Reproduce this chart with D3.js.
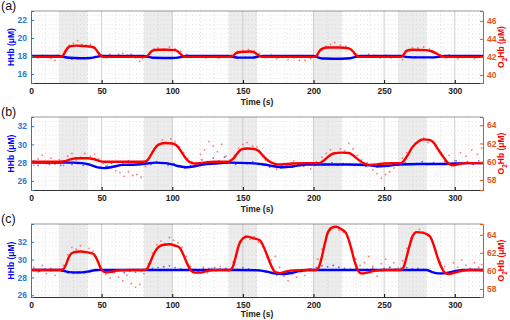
<!DOCTYPE html>
<html>
<head>
<meta charset="utf-8">
<script src="https://cdn.jsdelivr.net/npm/d3@7"></script>
<style>
  body { margin: 0; background: #fff; }
  text { font-family: "Liberation Sans", Arial, sans-serif; }
</style>
</head>
<body>
<div id="chart"></div>
<script>
// time axis + stimulus blocks
const X_TICKS = [0, 50, 100, 150, 200, 250, 300];
const STIM = [[20, 40], [80, 100], [140, 160], [200, 220], [260, 280]];

// panel (a)
const A_LEFT_TICKS = [16, 18, 20, 22];
const A_RIGHT_TICKS = [40, 42, 44, 46];
const A_HHB = [[0,18],[20,18],[23,17.9],[27,17.8],[35,17.75],[42,17.78],[46,17.9],[50,18],[80,18],[83,17.9],[87,17.8],[100,17.78],[105,17.85],[108,17.95],[110,18],[140,18],[143,17.9],[147,17.82],[157,17.82],[161,17.95],[164,18],[200,18],[203,17.85],[207,17.72],[220,17.7],[226,17.75],[230,17.9],[233,18],[262,18],[265,17.9],[270,17.85],[285,17.85],[290,17.95],[293,18],[320,18]];
const A_O2HB = [[0,42],[10,42],[20,42],[22,42.05],[24,42.5],[26,43.0],[28,43.2],[32,43.25],[38,43.2],[42,43.15],[45,43.0],[47,42.6],[49,42.2],[51,42],[60,42],[70,42],[80,42],[82,42.05],[84,42.4],[86,42.7],[90,42.8],[96,42.8],[102,42.75],[104,42.6],[106,42.3],[108,42.05],[110,42],[120,42],[130,42],[140,42],[143,42.1],[145,42.4],[148,42.55],[155,42.6],[158,42.5],[160,42.3],[162,42.1],[164,42],[180,42],[200,42],[202,42.1],[204,42.6],[206,42.9],[210,43.05],[218,43.05],[225,42.95],[228,42.6],[230,42.2],[232,42.0],[250,42],[262,42],[264,42.3],[266,42.7],[270,42.8],[280,42.75],[284,42.6],[288,42.3],[291,42.05],[294,42],[320,42]];
const A_HHB_PTS = [[3,18.0],[7,17.95],[12,18.05],[16,17.9],[21,17.95],[25,17.8],[29,17.65],[33,17.7],[37,17.75],[41,17.8],[45,17.85],[50,18.1],[55,18.05],[60,18.0],[65,17.95],[70,18.05],[75,18.0],[80,17.95],[86,17.75],[92,17.8],[98,17.75],[104,17.8],[110,18.1],[116,18.0],[122,18.05],[128,17.95],[134,18.05],[140,18.0],[146,17.8],[152,17.85],[158,17.85],[164,18.0],[170,18.05],[176,18.0],[182,17.95],[188,18.05],[194,18.0],[200,17.95],[206,17.7],[212,17.7],[218,17.65],[224,17.75],[230,17.95],[236,18.05],[242,18.0],[248,17.95],[254,18.05],[260,18.0],[266,17.85],[272,17.9],[278,17.85],[284,17.8],[290,18.05],[296,18.1],[302,17.95],[308,18.05],[314,17.9],[319,18.0]];
const A_O2HB_PTS = [[2,42.1],[5,41.9],[8,42.2],[11,42.0],[14,41.85],[17,41.6],[19,42.2],[24,42.7],[27,43.3],[30,43.5],[33,43.8],[36,43.4],[39,43.3],[42,43.4],[45,43.1],[48,42.3],[53,41.9],[56,42.3],[59,42.1],[62,42.3],[65,42.4],[68,42.2],[71,42.3],[74,41.9],[77,41.5],[79,41.8],[84,42.3],[87,42.9],[90,43.0],[94,42.9],[98,43.1],[102,42.9],[106,42.6],[111,42.2],[115,42.0],[119,42.1],[124,41.9],[129,42.1],[133,41.85],[137,42.0],[142,42.2],[146,42.6],[150,42.7],[154,42.8],[158,42.7],[162,42.4],[166,41.9],[170,42.2],[174,41.8],[178,42.1],[182,41.7],[186,41.9],[190,41.6],[194,41.6],[198,41.8],[203,42.2],[206,42.8],[209,43.2],[212,43.4],[215,43.6],[219,43.3],[223,43.2],[227,42.8],[231,42.3],[235,42.1],[239,42.3],[243,42.2],[247,41.9],[251,42.2],[255,41.9],[259,42.1],[263,41.7],[266,42.6],[270,43.0],[274,43.0],[278,43.1],[282,42.9],[286,42.5],[290,42.0],[294,41.9],[298,42.1],[302,41.8],[306,41.95],[310,42.1],[314,41.8],[318,42.0]];

// panel (b)
const B_LEFT_TICKS = [26, 28, 30, 32];
const B_RIGHT_TICKS = [58, 60, 62, 64];
const B_HHB = [[0,28],[20,28],[30,28.0],[36,27.95],[42,27.75],[48,27.45],[52,27.4],[58,27.55],[65,27.75],[75,27.8],[82,27.9],[88,28.0],[95,27.95],[100,27.8],[105,27.6],[110,27.5],[116,27.6],[122,27.8],[130,27.9],[140,28.0],[155,27.95],[165,27.8],[172,27.6],[178,27.5],[186,27.6],[195,27.8],[210,27.8],[225,27.8],[240,27.7],[247,27.6],[253,27.65],[260,27.8],[275,27.85],[290,27.85],[300,27.9],[310,27.95],[320,27.95]];
const B_O2HB = [[0,60],[10,60],[20,60],[24,60.05],[28,60.25],[32,60.38],[40,60.38],[44,60.3],[48,60.1],[52,60.0],[60,60],[70,60],[80,60],[82,60.1],[84,60.5],[87,61.3],[90,61.85],[95,62.05],[100,62.0],[103,61.8],[106,61.2],[109,60.5],[112,60.0],[116,59.8],[120,59.85],[125,59.95],[130,60],[140,60],[143,60.3],[146,60.9],[149,61.35],[153,61.45],[158,61.4],[161,61.2],[164,60.7],[168,60.1],[172,59.8],[177,59.7],[185,59.8],[195,59.85],[204,59.85],[207,60.1],[210,60.5],[214,60.9],[220,61.0],[225,60.95],[228,60.7],[232,60.2],[236,59.8],[240,59.65],[245,59.7],[250,59.8],[262,59.85],[264,60.1],[267,60.8],[270,61.6],[274,62.2],[278,62.45],[282,62.4],[285,62.1],[288,61.4],[292,60.5],[296,59.75],[299,59.6],[303,59.75],[308,59.85],[320,59.85]];
const B_HHB_PTS = [[2,28.2],[5,27.7],[9,28.1],[13,27.8],[17,28.0],[21,27.7],[25,28.1],[29,27.8],[33,27.9],[37,27.7],[41,27.9],[45,27.6],[49,27.5],[53,27.6],[57,27.9],[61,28.1],[65,27.9],[69,28.2],[73,28.0],[77,27.8],[81,28.1],[85,27.8],[89,28.1],[93,27.9],[97,27.7],[101,27.9],[105,27.6],[109,27.4],[113,27.7],[117,27.9],[121,28.3],[125,28.1],[129,28.5],[133,28.2],[137,28.6],[141,28.1],[145,27.8],[149,28.0],[153,27.9],[157,28.1],[161,27.8],[165,27.7],[169,27.5],[173,27.6],[177,27.4],[181,27.7],[185,27.5],[189,27.8],[193,27.6],[197,27.9],[201,27.7],[205,27.9],[209,27.8],[213,28.0],[217,27.7],[221,27.9],[225,27.8],[229,27.7],[233,27.9],[237,27.6],[241,27.7],[245,27.5],[249,27.8],[253,27.6],[257,27.9],[261,27.8],[265,28.0],[269,27.8],[273,27.9],[277,28.1],[281,27.8],[285,28.0],[289,27.9],[293,28.1],[297,27.9],[301,28.2],[305,27.9],[309,28.1],[313,27.8],[317,28.2]];
const B_O2HB_PTS = [[2,59.6],[5,60.3],[8,60.7],[11,59.8],[14,60.4],[17,59.7],[20,60.2],[23,59.6],[26,60.6],[29,60.9],[32,60.2],[35,60.5],[38,60.9],[42,60.6],[45,60.8],[48,60.3],[51,59.8],[54,59.6],[57,59.3],[60,59.0],[63,58.8],[66,58.4],[69,58.9],[72,58.5],[75,58.6],[78,58.3],[81,59.5],[84,60.6],[87,61.4],[90,61.9],[93,62.4],[96,62.0],[99,62.5],[102,62.2],[105,61.6],[108,61.0],[111,60.4],[114,60.0],[117,59.7],[120,60.8],[123,61.3],[126,62.2],[129,61.7],[132,61.1],[135,61.9],[138,60.6],[141,60.2],[144,60.7],[147,61.5],[150,61.9],[153,62.1],[157,61.7],[160,61.6],[163,60.9],[166,60.2],[170,59.5],[174,59.2],[178,59.6],[182,59.4],[186,60.1],[190,59.5],[194,59.7],[198,59.2],[202,60.0],[206,60.5],[209,60.9],[212,61.3],[215,61.0],[219,61.4],[222,61.2],[225,62.0],[228,61.4],[231,60.7],[234,60.2],[238,59.9],[242,59.1],[245,58.7],[248,58.2],[251,58.6],[254,58.9],[257,59.3],[260,59.6],[263,60.4],[266,61.0],[269,61.4],[272,62.0],[275,62.4],[278,62.6],[281,62.1],[284,62.3],[287,61.8],[290,61.0],[293,60.3],[296,60.7],[300,60.1],[304,61.0],[308,60.6],[312,61.3],[316,60.8],[319,61.5]];

// panel (c)
const C_LEFT_TICKS = [26, 28, 30, 32];
const C_RIGHT_TICKS = [58, 60, 62, 64];
const C_HHB = [[0,28.83],[20,28.83],[23,28.75],[27,28.6],[33,28.55],[40,28.65],[45,28.8],[50,28.85],[80,28.83],[140,28.83],[160,28.8],[167,28.65],[172,28.45],[178,28.38],[184,28.5],[190,28.7],[196,28.83],[280,28.83],[284,28.6],[288,28.45],[292,28.45],[297,28.6],[302,28.75],[306,28.83],[320,28.83]];
const C_O2HB = [[0,60.1],[10,60.1],[20,60.1],[23,60.2],[25,60.8],[27,61.6],[30,62.05],[35,62.15],[40,62.05],[44,61.9],[46,61.5],[48,60.8],[50,60.1],[53,59.85],[57,59.9],[62,60.05],[70,60.1],[80,60.1],[82,60.2],[84,60.8],[87,61.9],[90,62.6],[94,62.9],[98,62.95],[102,62.8],[105,62.6],[107,62.1],[110,61.0],[113,60.1],[116,59.8],[120,59.8],[125,60.0],[130,60.1],[141,60.1],[143,60.5],[145,61.6],[147,62.8],[150,63.6],[153,63.8],[158,63.6],[162,63.4],[164,62.9],[167,61.8],[170,60.6],[173,59.85],[176,59.75],[181,59.95],[186,60.05],[195,60.1],[202,60.1],[204,60.5],[206,61.6],[208,63.0],[210,64.2],[213,64.8],[216,64.9],[220,64.6],[223,64.2],[225,63.4],[227,62.3],[229,61.1],[231,60.2],[234,59.7],[238,59.8],[243,60.0],[250,60.1],[262,60.1],[264,60.5],[266,61.6],[268,62.8],[270,63.8],[273,64.3],[277,64.25],[281,64.0],[283,63.7],[285,62.9],[287,61.9],[290,60.6],[293,59.8],[296,59.65],[300,59.8],[305,60.0],[310,60.1],[320,60.1]];
const C_HHB_PTS = [[2,28.9],[6,28.7],[10,28.95],[14,28.75],[18,28.85],[22,28.7],[26,28.5],[30,28.45],[34,28.6],[38,28.5],[42,28.7],[46,28.9],[50,28.95],[54,28.8],[58,28.6],[62,28.75],[66,28.55],[70,28.7],[74,28.6],[78,28.75],[82,28.9],[86,29.0],[90,29.1],[94,29.2],[98,29.3],[102,29.1],[106,28.95],[110,28.8],[114,28.9],[118,28.7],[122,28.95],[126,29.0],[130,29.1],[134,28.95],[138,29.0],[142,29.05],[146,28.9],[150,29.1],[154,28.95],[158,28.85],[162,28.8],[166,28.6],[170,28.5],[174,28.3],[178,28.4],[182,28.55],[186,28.5],[190,28.7],[194,28.8],[198,28.95],[202,29.1],[206,29.3],[210,29.2],[214,29.35],[218,29.15],[222,29.0],[226,28.9],[230,28.95],[234,28.8],[238,28.9],[242,29.05],[246,28.85],[250,29.0],[254,29.1],[258,28.95],[262,29.05],[266,29.1],[270,28.95],[274,29.0],[278,28.9],[282,28.7],[286,28.5],[290,28.4],[294,28.45],[298,28.6],[302,28.75],[306,28.85],[310,28.8],[314,28.9],[318,28.85]];
const C_O2HB_PTS = [[2,60.4],[5,59.9],[8,60.6],[11,59.7],[14,60.3],[17,59.5],[20,60.2],[23,60.6],[26,61.8],[29,62.6],[32,62.4],[35,62.8],[38,62.1],[41,62.5],[44,62.2],[47,61.2],[50,60.0],[53,59.6],[56,59.2],[59,59.8],[62,59.3],[65,58.9],[68,59.5],[71,58.6],[74,58.2],[77,58.5],[80,59.7],[83,60.8],[86,62.0],[89,62.9],[92,63.3],[95,63.0],[98,63.7],[101,63.4],[104,63.1],[107,62.6],[110,61.6],[113,60.5],[116,60.2],[119,59.9],[122,60.4],[125,59.8],[128,60.3],[131,60.0],[134,60.5],[137,60.2],[140,60.0],[143,61.0],[146,62.2],[149,63.2],[152,63.9],[155,63.5],[158,63.8],[161,63.2],[164,62.7],[167,61.5],[170,61.2],[173,61.6],[176,60.4],[179,59.4],[182,58.9],[185,59.6],[188,59.3],[191,59.9],[194,59.5],[197,60.2],[200,60.0],[203,61.3],[206,62.4],[209,63.4],[212,64.5],[215,64.9],[218,64.5],[221,64.3],[224,63.8],[227,62.5],[230,61.3],[233,60.6],[236,60.9],[239,61.6],[242,60.5],[245,59.4],[248,60.8],[251,61.3],[254,60.4],[257,60.9],[260,60.3],[263,61.1],[266,62.5],[269,63.6],[272,64.2],[275,64.6],[278,64.3],[281,63.9],[284,63.4],[287,62.2],[290,61.0],[293,60.5],[296,59.8],[299,60.9],[302,60.4],[305,61.2],[308,60.6],[311,60.3],[314,60.9],[317,60.4],[319,60.7]];

const panels = [
    { label: "(a)", top: 11, bottom: 83, left: [15, 23], right: [39.1, 47.1],
      lt: A_LEFT_TICKS, rt: A_RIGHT_TICKS, hhb: A_HHB, o2: A_O2HB, hp: A_HHB_PTS, op: A_O2HB_PTS },
    { label: "(b)", top: 117, bottom: 190, left: [25, 33], right: [56.9, 64.9],
      lt: B_LEFT_TICKS, rt: B_RIGHT_TICKS, hhb: B_HHB, o2: B_O2HB, hp: B_HHB_PTS, op: B_O2HB_PTS },
    { label: "(c)", top: 224, bottom: 297, left: [25.8, 34], right: [57.1, 65.2],
      lt: C_LEFT_TICKS, rt: C_RIGHT_TICKS, hhb: C_HHB, o2: C_O2HB, hp: C_HHB_PTS, op: C_O2HB_PTS }
];

const W = 510, H = 320;
const X0 = 31, X1 = 483;
const leftCol = "#1f7bcf", rightCol = "#e0561a";

const svg = d3.select("#chart").append("svg")
    .attr("width", W)
    .attr("height", H);

const x = d3.scaleLinear().domain([0, 320]).range([X0, X1]);

panels.forEach((p, i) => {
    const yl = d3.scaleLinear().domain(p.left).range([p.bottom, p.top]);
    const yr = d3.scaleLinear().domain(p.right).range([p.bottom, p.top]);
    const g = svg.append("g");

    g.append("clipPath").attr("id", "clip" + i)
        .append("rect")
        .attr("x", X0).attr("y", p.top)
        .attr("width", X1 - X0).attr("height", p.bottom - p.top);

    // stimulus shading
    g.selectAll(".stim").data(STIM).enter().append("rect")
        .attr("x", d => x(d[0]))
        .attr("y", p.top)
        .attr("width", d => x(d[1]) - x(d[0]))
        .attr("height", p.bottom - p.top)
        .attr("fill", "#ececec");

    // minor grid
    g.selectAll(".hmin").data(d3.range(Math.ceil(p.left[0] * 2) / 2, p.left[1], 0.5)).enter().append("line")
        .attr("x1", X0).attr("x2", X1)
        .attr("y1", d => yl(d)).attr("y2", d => yl(d))
        .attr("stroke", "#cfcfcf").attr("stroke-width", 0.6)
        .attr("stroke-dasharray", "1,2.5");
    g.selectAll(".vmin").data(d3.range(10, 320, 10).filter(d => d % 50 !== 0)).enter().append("line")
        .attr("x1", d => x(d)).attr("x2", d => x(d))
        .attr("y1", p.top).attr("y2", p.bottom)
        .attr("stroke", "#cfcfcf").attr("stroke-width", 0.6)
        .attr("stroke-dasharray", "1,2.5");
    g.selectAll(".vmaj").data(X_TICKS.slice(1)).enter().append("line")
        .attr("x1", d => x(d)).attr("x2", d => x(d))
        .attr("y1", p.top).attr("y2", p.bottom)
        .attr("stroke", "#c4c4c4").attr("stroke-width", 0.8);

    const plot = g.append("g").attr("clip-path", "url(#clip" + i + ")");

    // raw samples
    plot.selectAll(".op").data(p.op).enter().append("circle")
        .attr("cx", d => x(d[0])).attr("cy", d => yr(d[1]))
        .attr("r", 0.9).attr("fill", "#ff5a5a").attr("opacity", 0.8);
    plot.selectAll(".hp").data(p.hp).enter().append("circle")
        .attr("cx", d => x(d[0])).attr("cy", d => yl(d[1]))
        .attr("r", 0.9).attr("fill", "#4646ff").attr("opacity", 0.8);

    const lineL = d3.line().x(d => x(d[0])).y(d => yl(d[1])).curve(d3.curveMonotoneX);
    const lineR = d3.line().x(d => x(d[0])).y(d => yr(d[1])).curve(d3.curveMonotoneX);

    plot.append("path").datum(p.hhb)
        .attr("d", lineL).attr("fill", "none")
        .attr("stroke", "#0000ff").attr("stroke-width", 2.4);
    plot.append("path").datum(p.o2)
        .attr("d", lineR).attr("fill", "none")
        .attr("stroke", "#ff0000").attr("stroke-width", 2.4);

    // box top
    g.append("line").attr("x1", X0).attr("x2", X1)
        .attr("y1", p.top).attr("y2", p.top)
        .attr("stroke", "#555").attr("stroke-width", 0.6);

    // axes
    const xAxis = g.append("g")
        .attr("transform", "translate(0," + p.bottom + ")")
        .call(d3.axisBottom(x).tickValues(X_TICKS).tickSize(-3).tickPadding(5));
    xAxis.select(".domain").attr("stroke", "#333");
    xAxis.selectAll("text").attr("font-size", 8.5).attr("font-weight", "bold").attr("fill", "#222");

    const lAxis = g.append("g")
        .attr("transform", "translate(" + X0 + ",0)")
        .call(d3.axisLeft(yl).tickValues(p.lt).tickSize(-3).tickPadding(4));
    lAxis.select(".domain").attr("stroke", leftCol);
    lAxis.selectAll("line").attr("stroke", leftCol);
    lAxis.selectAll("text").attr("font-size", 8.5).attr("font-weight", "bold").attr("fill", leftCol);

    const rAxis = g.append("g")
        .attr("transform", "translate(" + X1 + ",0)")
        .call(d3.axisRight(yr).tickValues(p.rt).tickSize(-3).tickPadding(4));
    rAxis.select(".domain").attr("stroke", rightCol);
    rAxis.selectAll("line").attr("stroke", rightCol);
    rAxis.selectAll("text").attr("font-size", 8.5).attr("font-weight", "bold").attr("fill", rightCol);

    const mid = (p.top + p.bottom) / 2;

    g.append("text")
        .attr("transform", "translate(14," + mid + ") rotate(-90)")
        .attr("text-anchor", "middle")
        .attr("font-size", 8.5).attr("font-weight", "bold")
        .attr("fill", "#0000ff")
        .text("HHb (\u03bcM)");

    const rl = g.append("text")
        .attr("transform", "translate(504," + mid + ") rotate(-90)")
        .attr("text-anchor", "middle")
        .attr("font-size", 8.5).attr("font-weight", "bold")
        .attr("fill", "#ff0000");
    rl.append("tspan").text("O");
    rl.append("tspan").attr("font-size", 6.5).attr("dy", 2.5).text("2");
    rl.append("tspan").attr("dy", -2.5).text("Hb (\u03bcM)");

    g.append("text")
        .attr("x", (X0 + X1) / 2).attr("y", Math.min(p.bottom + 22, 317))
        .attr("text-anchor", "middle")
        .attr("font-size", 8.5).attr("font-weight", "bold")
        .attr("fill", "#222")
        .text("Time (s)");

    g.append("text")
        .attr("x", 1).attr("y", p.top - 1)
        .attr("font-size", 12.5)
        .attr("fill", "#111")
        .text(p.label);
});
</script>
</body>
</html>
